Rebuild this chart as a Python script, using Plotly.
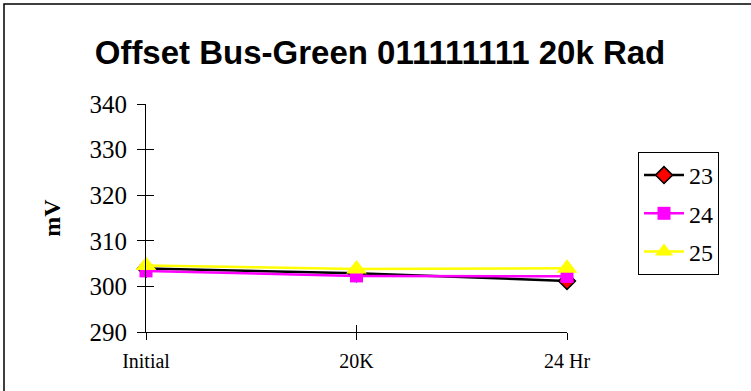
import plotly.graph_objects as go

categories = ["Initial", "20K", "24 Hr"]
series_names = ["23", "24", "25"]
s23 = [303.9, 302.9, 301.2]
s24 = [303.4, 302.3, 302.2]
s25 = [304.6, 303.8, 304.0]
y_ticks = [290, 300, 310, 320, 330, 340]

W, H = 751, 391
L, R, T, B = 146, 184, 104, 59
pw, ph = W - L - R, H - T - B

def px2paper_x(px):
    return (px - L) / pw

def px2paper_y(py):
    return (H - B - py) / ph

fig = go.Figure()
fig.add_trace(go.Scatter(
    x=categories, y=s23, name=series_names[0], mode="lines+markers",
    line=dict(color="black", width=2.5),
    marker=dict(symbol="diamond", size=13, color="red", line=dict(color="black", width=1.5)),
    cliponaxis=False, legendgroup="a"))
fig.add_trace(go.Scatter(
    x=categories, y=s24, name=series_names[1], mode="lines+markers",
    line=dict(color="#ff00ff", width=2.5),
    marker=dict(symbol="square", size=13, color="#ff00ff"),
    cliponaxis=False, legendgroup="b"))
fig.add_trace(go.Scatter(
    x=categories, y=s25, name=series_names[2], mode="lines+markers",
    line=dict(color="#ffff00", width=2.5),
    marker=dict(symbol="triangle-up", size=18, color="#ffff00"),
    cliponaxis=False, legendgroup="c"))
# invisible trace to carry the overlay axes (crossing ticks)
fig.add_trace(go.Scatter(x=categories, y=s23, xaxis="x2", yaxis="y2",
                         mode="markers", marker=dict(opacity=0), showlegend=False,
                         hoverinfo="skip"))

serif = "Liberation Serif"
fig.update_layout(
    width=W, height=H,
    margin=dict(l=L, r=R, t=T, b=B),
    paper_bgcolor="white", plot_bgcolor="white",
    title=dict(text="<b>Offset Bus-Green 011111111 20k Rad</b>",
               font=dict(family="Liberation Sans", size=33, color="black"),
               x=380 / W, xref="container", xanchor="center",
               y=(H - 52) / H, yref="container", yanchor="middle"),
    xaxis=dict(type="category", range=[0, 2], showline=True, linecolor="black", linewidth=1,
               ticks="outside", ticklen=7, tickcolor="black", tickwidth=1,
               tickmode="array", tickvals=[0, 1, 2], ticktext=categories,
               tickfont=dict(family=serif, size=20, color="black"),
               showgrid=False, zeroline=False, ticklabelstandoff=4),
    yaxis=dict(range=[290, 340], tickvals=y_ticks, showline=True, linecolor="black", linewidth=1,
               ticks="outside", ticklen=8, tickcolor="black", tickwidth=1,
               tickfont=dict(family=serif, size=25, color="black"),
               showgrid=False, zeroline=False, ticklabelstandoff=5,
               title=dict(text="<b>mV</b>", font=dict(family=serif, size=24, color="black"), standoff=22)),
    xaxis2=dict(type="category", range=[0, 2], overlaying="x", side="bottom", showline=False,
                ticks="inside", ticklen=7, tickcolor="black", tickwidth=1,
                tickmode="array", tickvals=[0, 1, 2], showticklabels=False,
                showgrid=False, zeroline=False),
    yaxis2=dict(range=[290, 340], overlaying="y", side="left", tickvals=y_ticks, showline=False,
                ticks="inside", ticklen=8, tickcolor="black", tickwidth=1, showticklabels=False,
                showgrid=False, zeroline=False),
    legend=dict(x=px2paper_x(638), y=px2paper_y(152), xanchor="left", yanchor="top",
                bordercolor="black", borderwidth=1, bgcolor="white",
                font=dict(family=serif, size=24, color="black"),
                traceorder="grouped", tracegroupgap=4, itemwidth=40),
    showlegend=True,
)
# outer chart border
fig.add_shape(type="rect", xref="paper", yref="paper",
              x0=px2paper_x(4), x1=px2paper_x(760), y0=px2paper_y(400), y1=px2paper_y(4),
              line=dict(color="black", width=1.5), fillcolor="rgba(0,0,0,0)", layer="below")

fig.write_html("out.html", config={"displayModeBar": False},
               post_script="document.body.style.margin='0px';document.body.style.overflow='hidden';")
